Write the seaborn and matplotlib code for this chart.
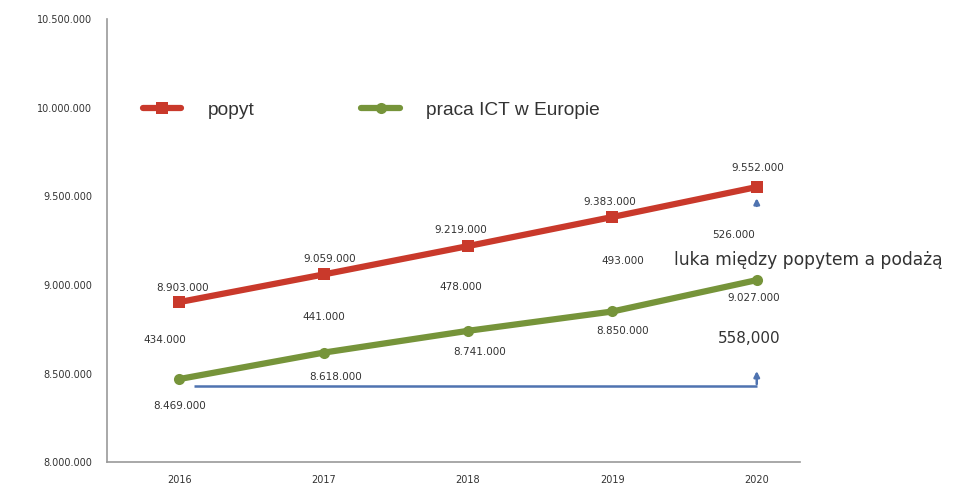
import matplotlib
matplotlib.use("Agg")
import matplotlib.pyplot as plt
import seaborn as sns
import pandas as pd

years = ["2016", "2017", "2018", "2019", "2020"]
popyt = [8903000, 9059000, 9219000, 9383000, 9552000]
praca = [8469000, 8618000, 8741000, 8850000, 9027000]
luka = [434000, 441000, 478000, 493000, 526000]
popyt_labels = ["8.903.000", "9.059.000", "9.219.000", "9.383.000", "9.552.000"]
praca_labels = ["8.469.000", "8.618.000", "8.741.000", "8.850.000", "9.027.000"]
luka_labels = ["434.000", "441.000", "478.000", "493.000", "526.000"]
yticks = [8000000, 8500000, 9000000, 9500000, 10000000, 10500000]
ytick_labels = ["8.000.000", "8.500.000", "9.000.000", "9.500.000", "10.000.000", "10.500.000"]

sns.set_style("white")
plt.rcParams['font.family'] = ['DejaVu Sans']

RED = "#c9392b"
GREEN = "#76943a"
BLUE = "#4f73b0"
TXT = "#333333"

df = pd.DataFrame({
    "rok": list(range(5)) * 2,
    "wartosc": popyt + praca,
    "seria": ["popyt"] * 5 + ["praca ICT w Europie"] * 5,
})

fig = plt.figure(figsize=(9.57, 4.86), dpi=100)
ax = fig.add_axes([0.112, 0.049, 0.724, 0.912])

sns.lineplot(data=df, x="rok", y="wartosc", hue="seria", style="seria",
             palette=[RED, GREEN], markers=["s", "o"], dashes=False,
             linewidth=4.5, markersize=8, markeredgewidth=0, ax=ax)

ax.set_xlim(-0.5, 4.3)
ax.set_ylim(8000000, 10500000)
ax.set_xticks(range(5))
ax.set_xticklabels(years, fontsize=7, color=TXT)
ax.set_yticks(yticks)
ax.set_yticklabels(ytick_labels, fontsize=7, color=TXT)
ax.set_xlabel("")
ax.set_ylabel("")
for s in ["top", "right"]:
    ax.spines[s].set_visible(False)
for s in ["left", "bottom"]:
    ax.spines[s].set_color("#999999")
    ax.spines[s].set_linewidth(1.2)
ax.tick_params(axis="y", length=3, color="#999999", pad=8)
ax.tick_params(axis="x", length=0, pad=9)

# data labels
pop_off = [(0.02, 80000), (0.04, 85000), (-0.05, 90000), (-0.02, 85000), (0.01, 110000)]
pr_off = [(0.0, -150000), (0.08, -140000), (0.08, -120000), (0.07, -110000), (-0.02, -100000)]
lu_pos = [(-0.1, 8690000), (0.0, 8820000), (-0.05, 8990000), (0.07, 9135000), (-0.16, 9280000)]
for i in range(5):
    ax.text(i + pop_off[i][0], popyt[i] + pop_off[i][1], popyt_labels[i],
            ha="center", va="center", fontsize=7.5, color=TXT)
    ax.text(i + pr_off[i][0], praca[i] + pr_off[i][1], praca_labels[i],
            ha="center", va="center", fontsize=7.5, color=TXT)
    ax.text(lu_pos[i][0] + i, lu_pos[i][1], luka_labels[i],
            ha="center", va="center", fontsize=7.5, color=TXT)

ax.text(3.43, 9140000, "luka między popytem a podażą", ha="left", va="center",
        fontsize=12.3, color=TXT, clip_on=False)
ax.text(3.95, 8700000, "558,000", ha="center", va="center", fontsize=11, color=TXT)

# blue gap arrows
ax.plot([0.1, 4.0], [8430000, 8430000], color=BLUE, linewidth=1.8, solid_capstyle="butt")
ax.annotate("", xy=(4.0, 8530000), xytext=(4.0, 8425000),
            arrowprops=dict(arrowstyle="-|>", color=BLUE, lw=1.8, mutation_scale=8))
ax.annotate("", xy=(4.0, 9505000), xytext=(4.0, 9430000),
            arrowprops=dict(arrowstyle="-|>", color=BLUE, lw=1.8, mutation_scale=8))

leg = ax.legend(loc="center left", bbox_to_anchor=(0.027, 0.795), ncol=2, frameon=False,
                prop={"family": "Liberation Sans", "size": 13.8},
                handlelength=2.0, columnspacing=5.6, handletextpad=1.35)
for t in leg.get_texts():
    t.set_color(TXT)

fig.savefig("out.png", dpi=100)
